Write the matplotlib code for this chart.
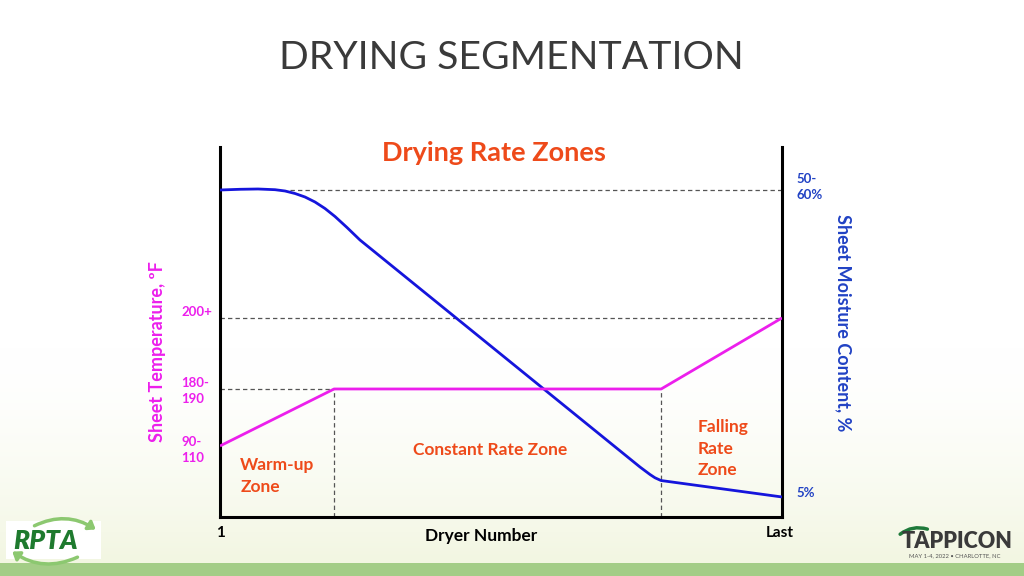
import numpy as np
import matplotlib
matplotlib.use("Agg")
import matplotlib.pyplot as plt
from matplotlib.patches import Rectangle, FancyArrowPatch

plt.rcParams['font.family'] = ['Lato', 'DejaVu Sans']

# ---------------- data ----------------
# position along the dryer section (0 = first dryer, 100 = last dryer)
moist_pos = [0, 3.56, 6.76, 9.79, 11.57, 13.35, 15.12, 16.90, 18.68, 20.46, 22.60, 24.91,
             72.95, 74.73, 76.51, 77.4, 78.47, 100]
moist_level = [88.38, 88.57, 88.65, 88.46, 88.11, 87.43, 86.49, 85.14, 83.38, 81.22, 78.24, 74.86,
               15.7, 13.51, 11.49, 10.6, 9.86, 5.41]

temp_pos = [0, 20.3, 78.5, 100]
temp_level = [19.2, 34.6, 34.6, 53.8]

temp_tick_levels = [53.8, 34.6, 19.2]
temp_tick_labels = ["200+", "180-\n190", "90-\n110"]
moist_tick_levels = [88.4, 5.4]
moist_tick_labels = ["50-\n60%", "5%"]

zone_bounds = [20.3, 78.5]
zone_labels = ["Warm-up\nZone", "Constant Rate Zone", "Falling\nRate\nZone"]
x_tick_labels = ["1", "Last"]

MAGENTA = "#EC1FEC"
BLUE = "#1515DC"
LBLUE = "#2142C4"
ORANGE = "#EE4A1A"

fig = plt.figure(figsize=(10.24, 5.76), dpi=100)
fig.patch.set_facecolor("white")

# background / slide decorations in pixel coordinates
bg = fig.add_axes([0, 0, 1, 1], zorder=-5)
bg.set_xlim(0, 1024)
bg.set_ylim(576, 0)
bg.axis("off")
grad = np.linspace(0, 1, 200)[:, None]
grad = np.clip((grad - 0.62) / 0.38, 0, 1) ** 1.6
c0 = np.array([1.0, 1.0, 1.0])
c1 = np.array([0.95, 0.965, 0.885])
img = c0[None, None, :] * (1 - grad[..., None]) + c1[None, None, :] * grad[..., None]
img = np.repeat(img, 2, axis=1)
bg.imshow(img, extent=[0, 1024, 563, 0], aspect="auto", zorder=0)
bg.add_patch(Rectangle((0, 563), 1024, 13, color="#A3CD86", zorder=1, lw=0))

bg.text(511, 58, "DRYING SEGMENTATION", ha="center", va="center",
        fontsize=28.2, fontweight="normal", color="#3a3a3a")

# RPTA logo (approximation)
bg.add_patch(Rectangle((6, 521), 95, 38, color="white", zorder=2, lw=0))
bg.text(46, 541, "RPTA", ha="center", va="center", fontsize=19, fontweight="heavy",
        style="italic", color="#1E7A2E", zorder=3)
bg.add_patch(FancyArrowPatch((32, 527), (98, 531), connectionstyle="arc3,rad=-0.3",
                             arrowstyle="-|>,head_width=3,head_length=4", color="#8CC870",
                             lw=2.5, zorder=2.5))
bg.add_patch(FancyArrowPatch((80, 556), (10, 550), connectionstyle="arc3,rad=-0.3",
                             arrowstyle="-|>,head_width=3,head_length=4", color="#8CC870",
                             lw=2.5, zorder=2.5))

# TAPPICON logo (approximation)
bg.text(957, 541, "TAPPICON", ha="center", va="center", fontsize=15.5, fontweight="heavy",
        color="#3a3a3a", zorder=3)
bg.text(955, 556, "MAY 1-4, 2022 • CHARLOTTE, NC", ha="center", va="center", fontsize=4.2,
        color="#555555", zorder=3)
bg.add_patch(FancyArrowPatch((898, 536), (930, 530), connectionstyle="arc3,rad=-0.3",
                             arrowstyle="-", color="#1E7A3A", lw=2.5, zorder=2.5))

# ---------------- chart ----------------
ax = fig.add_axes([220 / 1024, 59 / 576, 562 / 1024, 370 / 576])
ax.set_xlim(0, 100)
ax.set_ylim(0, 100)
ax.patch.set_alpha(0)
ax.spines["top"].set_visible(False)
for s in ["left", "right", "bottom"]:
    ax.spines[s].set_linewidth(2.2)
    ax.spines[s].set_color("black")
ax.set_xticks([])
ax.set_yticks([])

dash = dict(color="#555555", lw=0.9, ls=(0, (3.5, 2.5)), zorder=1)
ax.plot([12.5, 100], [moist_level[0]] * 2, **dash)
ax.plot([0, 100], [temp_level[3]] * 2, **dash)
ax.plot([0, zone_bounds[0]], [temp_level[1]] * 2, **dash)
for zb in zone_bounds:
    ax.plot([zb, zb], [0, temp_level[1]], **dash)

ax.plot(moist_pos, moist_level, color=BLUE, lw=2.0, zorder=3, solid_capstyle="butt",
        solid_joinstyle="round")
ax.plot(temp_pos, temp_level, color=MAGENTA, lw=2.0, zorder=3, solid_capstyle="butt")

# tick labels (text)
ylab_dy = [1.5, -0.5, -1.0]
for lv, lb, d in zip(temp_tick_levels, temp_tick_labels, ylab_dy):
    ax.text(-6.9, lv + d, lb, ha="left", va="center", fontsize=9.5, fontweight="bold",
            color=MAGENTA, linespacing=1.4, clip_on=False)
for lv, lb, d in zip(moist_tick_levels, moist_tick_labels, [0.8, 1.0]):
    ax.text(102.6, lv + d, lb, ha="left", va="center", fontsize=9.5, fontweight="bold",
            color=LBLUE, linespacing=1.4, clip_on=False)

ax.text(0, -4.3, x_tick_labels[0], ha="center", va="center", fontsize=11,
        fontweight="bold", color="black", clip_on=False)
ax.text(99.6, -4.3, x_tick_labels[1], ha="center", va="center", fontsize=11,
        fontweight="bold", color="black", clip_on=False)
ax.text(46.5, -5.2, "Dryer Number", ha="center", va="center", fontsize=12.5,
        fontweight="bold", color="black", clip_on=False)

ax.text(48.8, 98.3, "Drying Rate Zones", ha="center", va="center", fontsize=19.5,
        fontweight="bold", color=ORANGE, clip_on=False)

ax.text(3.6, 11.0, zone_labels[0], ha="left", va="center", fontsize=12.5,
        fontweight="bold", color=ORANGE, linespacing=1.45)
ax.text(48.1, 18.1, zone_labels[1], ha="center", va="center", fontsize=12.5,
        fontweight="bold", color=ORANGE)
ax.text(85.0, 18.5, zone_labels[2], ha="left", va="center", fontsize=12.5,
        fontweight="bold", color=ORANGE, linespacing=1.45)

ax.text(-11.2, 44.8, "Sheet Temperature, ºF", rotation=90, ha="center", va="center",
        fontsize=13, fontweight="bold", color=MAGENTA, clip_on=False)
ax.text(110.9, 52.5, "Sheet Moisture Content, %", rotation=-90, ha="center", va="center",
        fontsize=13, fontweight="bold", color=LBLUE, clip_on=False)

fig.savefig("out.png", dpi=100)
